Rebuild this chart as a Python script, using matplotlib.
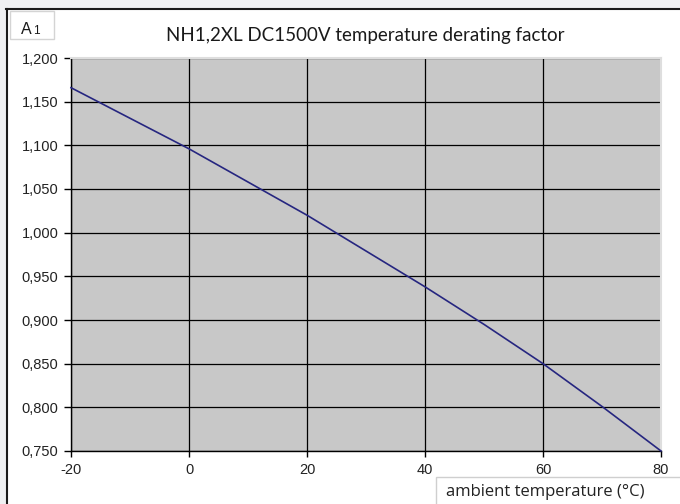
import matplotlib
matplotlib.use("Agg")
import matplotlib.pyplot as plt
from matplotlib.patches import Rectangle
from matplotlib.ticker import FuncFormatter, MultipleLocator

plt.rcParams["axes.unicode_minus"] = False

# derating factor vs ambient temperature
temp = [-20, -10, 0, 10, 20, 30, 40, 50, 60, 70, 80]
factor = [1.166, 1.131, 1.096, 1.058, 1.020, 0.979, 0.938, 0.895, 0.850, 0.801, 0.750]

title = "NH1,2XL DC1500V temperature derating factor"
xlabel = "ambient temperature (°C)"

narrow = ["Liberation Sans Narrow", "DejaVu Sans Condensed", "Lato"]
sans = ["Liberation Sans", "Arial", "DejaVu Sans"]

fig = plt.figure(figsize=(6.8, 5.04), dpi=100)
fig.patch.set_facecolor("white")

# grey strips and dark frame edges round the white panel
fig.add_artist(Rectangle((0, 1 - 8 / 504), 1, 8 / 504, transform=fig.transFigure,
                         facecolor="#eff0f2", edgecolor="none", zorder=0))
fig.add_artist(Rectangle((0, 0), 6 / 680, 1, transform=fig.transFigure,
                         facecolor="#eff0f2", edgecolor="none", zorder=0))
fig.add_artist(plt.Line2D([6 / 680, 1], [1 - 8.5 / 504] * 2, transform=fig.transFigure,
                          color="#1a1a1a", lw=1.5))
fig.add_artist(plt.Line2D([6.5 / 680] * 2, [0, 1 - 8.5 / 504], transform=fig.transFigure,
                          color="#1a1a1a", lw=1.5))

ax = fig.add_axes([71 / 680, 53 / 504, 590 / 680, 393 / 504])
ax.set_facecolor("#c8c8c8")
ax.plot(temp, factor, color="#262680", lw=1.2, zorder=3, clip_on=False)

ax.set_xlim(-20, 80)
ax.set_ylim(0.75, 1.20)
ax.xaxis.set_major_locator(MultipleLocator(20))
ax.yaxis.set_major_locator(MultipleLocator(0.05))
ax.yaxis.set_major_formatter(FuncFormatter(lambda v, p: f"{v:.3f}".replace(".", ",")))
ax.grid(True, color="black", lw=0.9)
ax.set_axisbelow(True)

for s in ["top", "right"]:
    ax.spines[s].set_color("#dedede")
    ax.spines[s].set_linewidth(1.5)
for s in ["left", "bottom"]:
    ax.spines[s].set_color("black")
    ax.spines[s].set_linewidth(1.0)

ax.tick_params(axis="both", direction="out", length=5, width=1, color="black",
               labelsize=10.5, labelcolor="#222222", pad=4)
ax.tick_params(axis="x", length=4, pad=5)
for lab in ax.get_xticklabels() + ax.get_yticklabels():
    lab.set_family(sans)

fig.text(365 / 680, 1 - 36 / 504, title, ha="center", va="center",
         fontsize=13.5, family=narrow, color="#1a1a1a")

# small "A1" tag in the top-left corner
fig.add_artist(Rectangle((9.5 / 680, 1 - 39 / 504), 44 / 680, 28 / 504,
                         transform=fig.transFigure, facecolor="white",
                         edgecolor="#d4d4d4", lw=1))
fig.text(20.5 / 680, 1 - 33.5 / 504, "A", ha="left", va="baseline",
         fontsize=11.5, family=sans, color="#1a1a1a")
fig.text(33.5 / 680, 1 - 33.5 / 504, "1", ha="left", va="baseline",
         fontsize=8.5, family=sans, color="#1a1a1a")

# axis caption box at the bottom right
fig.add_artist(Rectangle((436 / 680, -0.01), 0.4, 27 / 504 + 0.01,
                         transform=fig.transFigure, facecolor="white",
                         edgecolor="#cfcfcf", lw=1))
fig.text(446 / 680, 1 - 492 / 504, xlabel, ha="left", va="center",
         fontsize=12, family="Open Sans", color="#222222")

fig.savefig("out.png", dpi=100)
